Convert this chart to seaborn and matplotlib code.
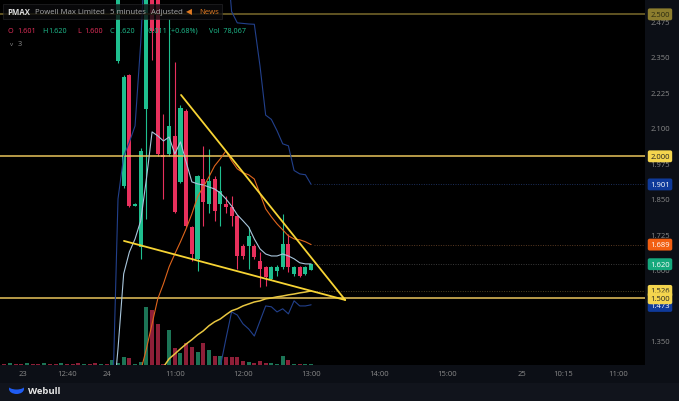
import numpy as np
import pandas as pd
import matplotlib
matplotlib.use("Agg")
import matplotlib.pyplot as plt
from matplotlib.patches import Rectangle, Ellipse
import seaborn as sns

sns.set_style("dark")
plt.rcParams["font.family"] = ["Open Sans", "DejaVu Sans"]

W, H = 679, 402

# 5 minute bars, index 0 = 10:10 on the 24th, last bar 13:00
bars = list(range(35))
opens = [2.336, 1.896, 2.287, 1.826, 1.681, 2.167, 2.750, 2.600, 2.005, 2.008,
         2.072, 1.910, 2.160, 1.751, 1.639, 1.920, 1.832, 1.920, 1.832, 1.832,
         1.822, 1.790, 1.685, 1.685, 1.685, 1.632, 1.611, 1.568, 1.596, 1.611,
         1.692, 1.586, 1.611, 1.586, 1.601]
highs = [2.660, 2.285, 2.290, 1.835, 2.030, 2.700, 2.800, 2.620, 2.149, 2.484,
         2.332, 2.180, 2.165, 1.755, 1.935, 2.037, 2.026, 1.930, 1.966, 1.860,
         1.861, 1.795, 1.690, 1.751, 1.690, 1.663, 1.615, 1.615, 1.618, 1.797,
         1.727, 1.615, 1.615, 1.615, 1.620]
lows = [2.330, 1.890, 1.820, 1.824, 1.639, 1.780, 2.340, 2.000, 1.850, 2.000,
        1.800, 1.905, 1.750, 1.632, 1.596, 1.755, 1.800, 1.773, 1.755, 1.800,
        1.755, 1.603, 1.640, 1.603, 1.640, 1.540, 1.544, 1.565, 1.579, 1.603,
        1.593, 1.580, 1.575, 1.582, 1.600]
closes = [2.620, 2.280, 1.825, 1.832, 2.019, 2.650, 2.440, 2.008, 1.998, 2.107,
          1.804, 2.170, 1.755, 1.656, 1.931, 1.839, 1.913, 1.808, 1.878, 1.822,
          1.790, 1.649, 1.649, 1.720, 1.646, 1.603, 1.575, 1.611, 1.611, 1.692,
          1.611, 1.611, 1.579, 1.611, 1.620]

# volume in thousands, bars -20 .. 34 (left part = previous session)
vol_bars = list(range(-20, 35))
volumes = [30, 40, 30, 30, 40, 30, 30, 40, 30, 30, 40, 30, 30, 40, 30, 30, 40, 30, 30,
           100,
           40, 160, 140, 20, 60, 1160, 1100, 820, 20, 700,
           340, 240, 440, 360, 260, 440, 300, 180, 180, 160,
           160, 160, 80, 60, 40, 80, 40, 40, 20, 180,
           100, 30, 30, 30, 30]
vol_up = [0, 1, 0, 0, 1, 0, 0, 1, 0, 0, 1, 0, 0, 0, 1, 0, 0, 1, 0,
          1,
          1, 1, 0, 1, 1, 1, 0, 0, 0, 1,
          0, 1, 0, 0, 1, 0, 1, 0, 1, 0,
          0, 0, 0, 1, 0, 0, 0, 1, 1, 1,
          0, 1, 0, 1, 1]

# indicator lines
mid_x = list(range(-1, 35))
mid_y = [1.100, 1.322, 1.586, 1.663, 1.709, 1.773, 1.920, 2.086, 2.072, 2.054,
         2.068, 2.008, 2.051, 1.980, 1.910, 1.903, 1.899, 1.892, 1.885, 1.871,
         1.850, 1.825, 1.794, 1.773, 1.751, 1.709, 1.674, 1.656, 1.649, 1.649,
         1.656, 1.649, 1.639, 1.625, 1.621, 1.621]
orange_x = list(range(4, 35))
orange_y = [1.244, 1.322, 1.410, 1.498, 1.551, 1.611, 1.656, 1.699, 1.745, 1.797,
            1.857, 1.892, 1.927, 1.966, 1.991, 2.019, 1.984, 1.956, 1.942, 1.935,
            1.920, 1.868, 1.815, 1.787, 1.762, 1.741, 1.720, 1.709, 1.706, 1.699,
            1.689]
slow_x = list(range(8, 35))
slow_y = [1.258, 1.287, 1.304, 1.322, 1.339, 1.354, 1.371, 1.385, 1.403, 1.417,
          1.427, 1.442, 1.456, 1.463, 1.473, 1.480, 1.487, 1.491, 1.498, 1.501,
          1.505, 1.508, 1.512, 1.515, 1.519, 1.522, 1.526]
upper_x = [-1, 0, 1, 2, 3, 4, 5, 19, 20, 21, 22, 23, 24, 25, 26, 27, 28, 29, 30, 31, 32, 33, 34]
upper_y = [1.100, 1.850, 2.000, 2.050, 2.107, 2.400, 2.800, 2.750, 2.510, 2.470,
           2.468, 2.466, 2.465, 2.318, 2.145, 2.130, 2.090, 2.044, 2.037, 1.950,
           1.938, 1.935, 1.901]
lower_x = list(range(18, 35))
lower_y = [1.258, 1.357, 1.452, 1.441, 1.410, 1.392, 1.367, 1.420, 1.473, 1.470,
           1.452, 1.463, 1.445, 1.491, 1.473, 1.473, 1.477]

# drawn trendlines (bar, price)
tl_upper_x = [11.1, 40.0]
tl_upper_y = [2.216, 1.494]
tl_lower_x = [1.05, 40.0]
tl_lower_y = [1.702, 1.494]

levels = [2.5, 2.0, 1.5]
level_colors = ["#7a6a2c", "#e9c55c", "#e9c55c"]

xtick_pos = [-16.7, -9.0, -1.9, 10, 22, 34, 46, 58, 71.1, 78.3, 88.0]
xtick_labels = ["23", "12:40", "24", "11:00", "12:00", "13:00", "14:00", "15:00", "25", "10:15", "11:00"]

UP, DOWN = "#1fbf8f", "#e8305c"
VUP, VDOWN = "#1c7556", "#8e1f38"

fig = plt.figure(figsize=(W / 100, H / 100), dpi=100)
fig.patch.set_facecolor("#0c0f16")

rect = [0, 36 / H, 645 / W, 366 / H]
vax = fig.add_axes(rect)
vax.set_facecolor("#000000")
ax = fig.add_axes(rect, sharex=vax)
ax.patch.set_visible(False)

# volume
vdf = pd.DataFrame({"bar": vol_bars, "vol": volumes, "up": vol_up})
vax.bar(vdf["bar"], vdf["vol"], width=0.7,
        color=np.where(vdf["up"] == 1, VUP, VDOWN), linewidth=0)
vax.set_ylim(0, 1160 * 366 / 58)
vax.set_yticks([])
vax.tick_params(axis="x", labelbottom=False, length=0)
vax.grid(False)
for s in vax.spines.values():
    s.set_visible(False)

# candles
df = pd.DataFrame({"bar": bars, "o": opens, "h": highs, "l": lows, "c": closes})
col = np.where(df["c"] >= df["o"], UP, DOWN)
ax.vlines(df["bar"], df["l"], df["h"], colors=col, lw=0.8, zorder=3)
body_lo = np.minimum(df["o"], df["c"])
body_h = np.maximum((df["c"] - df["o"]).abs(), 0.004)
ax.bar(df["bar"], body_h, bottom=body_lo, width=0.72, color=col, linewidth=0, zorder=3)

# horizontal levels
for lv, lc in zip(levels, level_colors):
    ax.axhline(lv, color=lc, lw=1.1, zorder=4)

# indicators
sns.lineplot(x=upper_x, y=upper_y, ax=ax, color="#22408c", lw=0.8, zorder=5)
sns.lineplot(x=lower_x, y=lower_y, ax=ax, color="#22408c", lw=0.8, zorder=5)
sns.lineplot(x=mid_x, y=mid_y, ax=ax, color="#a9c6dc", lw=0.8, zorder=5)
sns.lineplot(x=orange_x, y=orange_y, ax=ax, color="#e0651c", lw=0.8, zorder=5)
sns.lineplot(x=slow_x, y=slow_y, ax=ax, color="#e8c640", lw=1.1, zorder=5)
sns.lineplot(x=tl_upper_x, y=tl_upper_y, ax=ax, color="#f7d434", lw=1.3, zorder=6)
sns.lineplot(x=tl_lower_x, y=tl_lower_y, ax=ax, color="#f7d434", lw=1.3, zorder=6)

# dotted guides from last values to the price scale
xr = (645 - 118) / 5.68
for yv, dc in [(1.901, "#1c2f5c"), (1.689, "#5a3a22"), (1.620, "#3a3a3a"), (1.526, "#4a4020")]:
    ax.hlines(yv, 34.5, xr, colors=dc, linestyles=(0, (1, 1.5)), lw=0.7, zorder=2)

ax.set_xlim(-118 / 5.68, xr)
ax.set_ylim(1.265, 2.554)
ax.grid(False)
for s in ax.spines.values():
    s.set_visible(False)

ax.yaxis.tick_right()
yt = np.arange(1.35, 2.48, 0.125)
ax.set_yticks(yt)
ax.set_yticklabels([f"{v:.3f}" for v in yt])
ax.tick_params(axis="y", length=0, pad=4, labelsize=5.5, labelcolor="#8a8a8a")
ax.set_xticks(xtick_pos)
ax.set_xticklabels(xtick_labels)
ax.tick_params(axis="x", length=0, pad=3.5, labelsize=5.5, labelcolor="#8a8a8a")
ax.set_xlabel("")
ax.set_ylabel("")

# price badges
badges = [(2.500, "2.500", "#8c7d2e", "#2a2a10"),
          (2.000, "2.000", "#f4d54e", "#222222"),
          (1.901, "1.901", "#0f3a9a", "#ffffff"),
          (1.689, "1.689", "#f25f12", "#ffffff"),
          (1.620, "1.620", "#16a97d", "#ffffff"),
          (1.526, "1.526", "#f4d54e", "#222222"),
          (1.473, "1.473", "#0f3a9a", "#ffffff"),
          (1.500, "1.500", "#f4d54e", "#222222")]
for i, (yv, txt, bg, fg) in enumerate(badges):
    ax.text(660 / 645, yv, txt, transform=ax.get_yaxis_transform(), ha="center", va="center",
            fontsize=5.5, color=fg, clip_on=False, zorder=20 + i,
            bbox=dict(boxstyle="round,pad=0.32,rounding_size=0.25", fc=bg, ec="none"))

# header
def fx(x):
    return x / W

def fy(y):
    return 1 - y / H

fig.add_artist(Rectangle((fx(3), fy(20)), 219 / W, 15 / H, transform=fig.transFigure,
                         fc="#0b0b0d", ec="#2a2a2e", lw=0.5, alpha=0.8, zorder=30))
hdr = [(7, "PMAX", "#dcdcdc"), (35, "Powell Max Limited", "#a8a8a8"),
       (110, "5 minutes", "#a8a8a8"), (151, "Adjusted", "#a8a8a8"),
       (186, "◀", "#e07a22"), (199, "News", "#e07a22")]
for x, t, c in hdr:
    fig.text(fx(x), fy(12.5), t, color=c, fontsize=5.6, ha="left", va="center", zorder=31,
             fontweight="bold" if t == "PMAX" else "normal")
ohlc = [(8, "O", "#e8305c"), (17, "1.601", "#e8305c"), (42, "H", "#1fbf8f"),
        (48, "1.620", "#1fbf8f"), (77, "L", "#e8305c"), (84, "1.600", "#e8305c"),
        (109, "C", "#1fbf8f"), (116, "1.620", "#1fbf8f"),
        (144, "+0.011 (+0.68%)", "#1fbf8f"), (209, "Vol  78,067", "#1fbf8f")]
for x, t, c in ohlc:
    fig.text(fx(x), fy(31.5), t, color=c, fontsize=5.2, ha="left", va="center", zorder=31)
fig.text(fx(10), fy(44), "v", color="#8a8a8a", fontsize=4.5, ha="left", va="center", zorder=31)
fig.text(fx(18), fy(44), "3", color="#8a8a8a", fontsize=5.3, ha="left", va="center", zorder=31)

# footer
fax = fig.add_axes([0, 0, 1, 18 / H])
fax.set_xlim(0, W)
fax.set_ylim(402, 384)
fax.set_facecolor("#11141c")
fax.axis("off")
fax.add_patch(Rectangle((0, 384), W, 18, fc="#11141c", ec="none"))
fax.add_patch(Ellipse((16.5, 390), 15, 10, fc="#1f5cf2", ec="none"))
fax.add_patch(Ellipse((16.5, 387), 16, 7, fc="#11141c", ec="none"))
fax.text(28, 392, "Webull", color="#e8e8e8", fontsize=6.8, fontweight="bold", ha="left", va="center")

fig.savefig("out.png", dpi=100, facecolor=fig.get_facecolor())
